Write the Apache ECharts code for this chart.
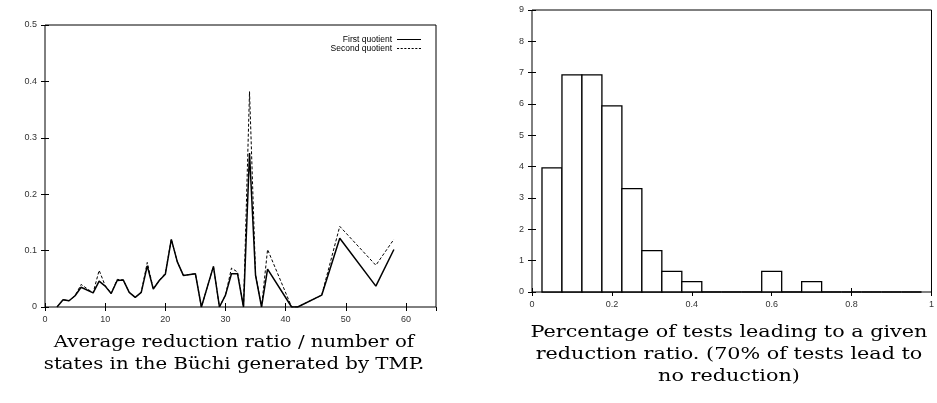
<!DOCTYPE html>
<html>
<head>
<meta charset="utf-8">
<script src="https://cdn.jsdelivr.net/npm/echarts@6/dist/echarts.min.js"></script>
<style>
html,body{margin:0;padding:0;background:#fff;}
#c{width:937px;height:403px;}
</style>
</head>
<body>
<div id="c"></div>
<script>
// ---- Left chart data ----
const lineX = [2,3,4,5,6,8,9,10,11,12,13,14,15,16,17,18,19,20,21,22,23,25,26,28,29,30,31,32,33,34,35,36,37,41,42,46,49,55,58];
const firstQuotient = [0,0.013,0.011,0.020,0.035,0.025,0.046,0.037,0.024,0.047,0.048,0.026,0.017,0.026,0.073,0.032,0.047,0.058,0.120,0.080,0.056,0.059,0,0.072,0,0.021,0.059,0.059,0,0.273,0.056,0,0.067,0,0,0.021,0.122,0.037,0.102];
const secondQuotient = [0,0.013,0.011,0.020,0.040,0.025,0.065,0.038,0.024,0.049,0.048,0.026,0.017,0.026,0.079,0.032,0.047,0.060,0.120,0.080,0.056,0.059,0,0.072,0,0.021,0.069,0.062,0,0.382,0.058,0,0.102,0,0,0.021,0.143,0.074,0.120];
const seriesNames = ['First quotient','Second quotient'];

// ---- Right chart data (histogram) ----
const binCenters = [0.05,0.10,0.15,0.20,0.25,0.30,0.35,0.40,0.45,0.50,0.55,0.60,0.65,0.70,0.75,0.80,0.85,0.90,0.95];
const binCounts  = [3.96,6.93,6.93,5.94,3.30,1.32,0.66,0.33,0,0,0,0.66,0,0.33,0,0,0,0,0];
const binWidth = 0.05;

const leftCaption = ["Average reduction ratio / number of", "states in the Büchi generated by TMP."];
const rightCaption = ["Percentage of tests leading to a given", "reduction ratio. (70% of tests lead to", "no reduction)"];

const chart = echarts.init(document.getElementById('c'), null, {renderer:'canvas'});
const tickFont = {fontFamily:'Liberation Sans', fontSize:9, color:'#333'};
function pairs(xs, ys){ return xs.map((x,i)=>[x, ys[i]]); }

const common = (o)=>Object.assign({
  axisLine:{show:false}, splitLine:{show:false},
  axisTick:{show:true, inside:true, length:4, lineStyle:{color:'#000', width:1}}
}, o);

const solidIcon = 'path://M0,0h24v1h-24z';
let dashPath = '';
for (let x = 0; x < 24; x += 3.5) dashPath += 'M' + x + ',0h2v1h-2z';
const dashIcon = 'path://' + dashPath;

function captionGraphics(lines, cx, y0, step, sx){
  return lines.map((t,i)=>({
    type:'text', x:cx, y:y0 + i*step, scaleX:sx,
    style:{text:t, fontFamily:'DejaVu Serif', fontSize:17, fill:'#000', textAlign:'center', textVerticalAlign:'middle'}
  }));
}

chart.setOption({
  animation:false,
  backgroundColor:'#fff',
  graphic: captionGraphics(leftCaption, 234, 343, 22, 1.16).concat(captionGraphics(rightCaption, 729, 333, 22, 1.22)),
  legend:{
    orient:'vertical', right:511, top:30, align:'right', itemGap:0,
    itemWidth:24, itemHeight:1.2,
    data:[{name:seriesNames[0], icon:solidIcon}, {name:seriesNames[1], icon:dashIcon}],
    itemStyle:{color:'#000', borderWidth:0},
    textStyle:{fontFamily:'Liberation Sans', fontSize:8.5, lineHeight:8, color:'#000'},
    selectedMode:false
  },
  grid:[
    {left:45, top:25, width:391, height:282, show:true, borderColor:'#000', borderWidth:1, backgroundColor:'transparent'},
    {left:532, top:10, width:401, height:282, show:true, borderColor:'#000', borderWidth:1, backgroundColor:'transparent'}
  ],
  xAxis:[
    common({type:'value', gridIndex:0, min:0, max:65, interval:10, axisLabel:Object.assign({margin:8, showMaxLabel:false}, tickFont)}),
    common({type:'value', gridIndex:0, position:'top', min:0, max:65, interval:10, axisLabel:{show:false}}),
    common({type:'value', gridIndex:1, min:0, max:1, interval:0.2, axisLabel:Object.assign({margin:8, formatter:v=>String(+v.toFixed(1))}, tickFont)}),
    common({type:'value', gridIndex:1, position:'top', min:0, max:1, interval:0.2, axisLabel:{show:false}})
  ],
  yAxis:[
    common({type:'value', gridIndex:0, min:0, max:0.5, interval:0.1, axisLabel:Object.assign({margin:8, formatter:v=>String(+v.toFixed(1))}, tickFont)}),
    common({type:'value', gridIndex:0, position:'right', min:0, max:0.5, interval:0.1, axisLabel:{show:false}}),
    common({type:'value', gridIndex:1, min:0, max:9, interval:1, axisLabel:Object.assign({margin:8}, tickFont)}),
    common({type:'value', gridIndex:1, position:'right', min:0, max:9, interval:1, axisLabel:{show:false}})
  ],
  series:[
    {name:seriesNames[0], type:'line', xAxisIndex:0, yAxisIndex:0, data:pairs(lineX, firstQuotient),
     symbol:'none', lineStyle:{color:'#000', width:1.5, type:'solid'}, itemStyle:{color:'#000'}, z:3},
    {name:seriesNames[1], type:'line', xAxisIndex:0, yAxisIndex:0, data:pairs(lineX, secondQuotient),
     symbol:'none', lineStyle:{color:'#000', width:1, type:[3,2]}, itemStyle:{color:'#000'}, z:2},
    {name:'hist', type:'custom', xAxisIndex:2, yAxisIndex:2,
     data:binCenters.map((c,i)=>[c, binCounts[i]]),
     renderItem:function(params, api){
       const c = api.value(0), v = api.value(1);
       const p0 = api.coord([c - binWidth/2, v]);
       const p1 = api.coord([c + binWidth/2, 0]);
       return {type:'rect', shape:{x:p0[0], y:p0[1], width:p1[0]-p0[0], height:p1[1]-p0[1]},
               style:{fill:'#fff', stroke:'#000', lineWidth:1.3}};
     }, z:3}
  ]
});
</script>
</body>
</html>
